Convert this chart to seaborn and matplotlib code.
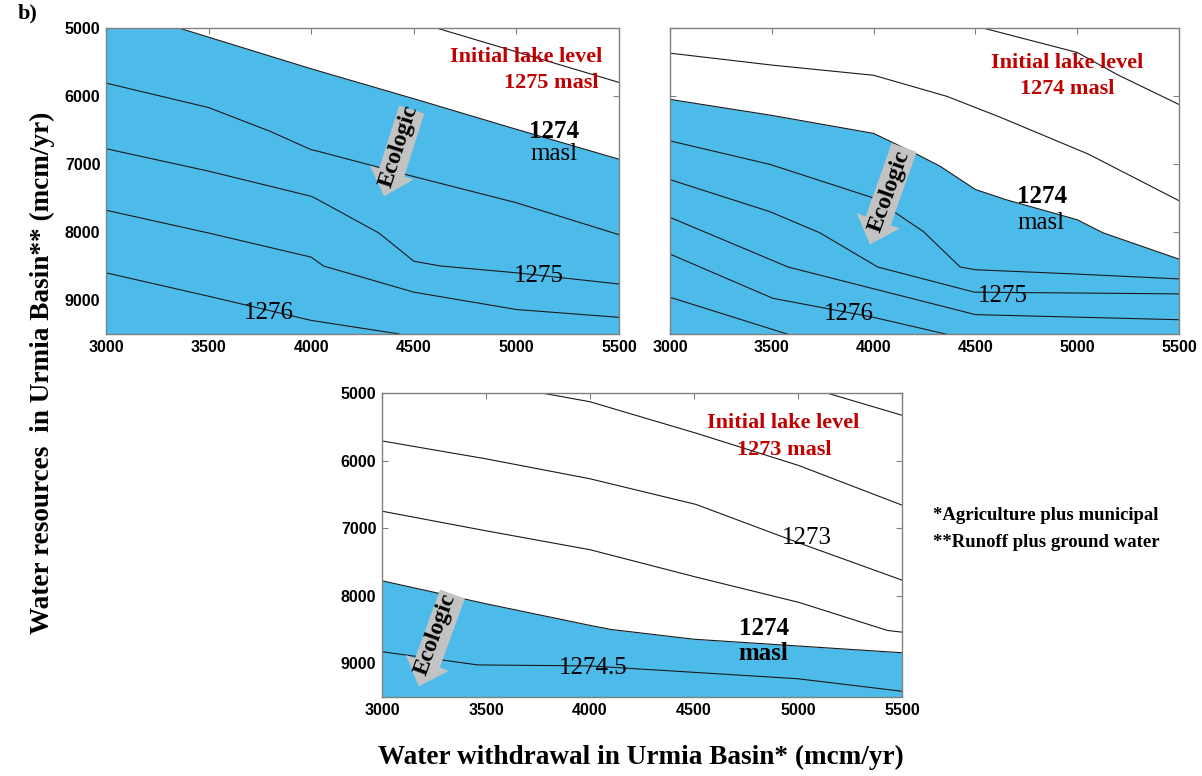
import matplotlib
matplotlib.use("Agg")
import matplotlib.pyplot as plt
import pandas as pd
import seaborn as sns

# ---- axis ticks (mcm/yr) ----
withdrawal_ticks = [3000, 3500, 4000, 4500, 5000, 5500]
resource_ticks = [5000, 6000, 7000, 8000, 9000]
resource_range = [5000, 9500]

# ---- panel 1: initial lake level 1275 masl ----
p1_c1_x = [4610, 5500]
p1_c1_y = [5000, 5800]
p1_c2_x = [3355, 4000, 4500, 5000, 5500]          # 1274 masl contour
p1_c2_y = [5000, 5600, 6040, 6490, 6930]
p1_c3_x = [3000, 3500, 3800, 4000, 4030, 4500, 5000, 5500]
p1_c3_y = [5810, 6170, 6520, 6790, 6810, 7185, 7570, 8040]
p1_c4_x = [3000, 3500, 4000, 4030, 4330, 4500, 4630, 5000, 5500]
p1_c4_y = [6775, 7105, 7475, 7520, 8015, 8430, 8500, 8600, 8765]
p1_c5_x = [3000, 3500, 4000, 4060, 4500, 5000, 5500]
p1_c5_y = [7680, 8015, 8370, 8500, 8885, 9140, 9255]
p1_c6_x = [3000, 3500, 4000, 4430]
p1_c6_y = [8600, 8945, 9300, 9500]

# ---- panel 2: initial lake level 1274 masl ----
p2_c1_x = [4537, 5000, 5200, 5500]
p2_c1_y = [5000, 5360, 5690, 6125]
p2_c2_x = [3000, 3500, 4000, 4360, 4620, 5055, 5500]
p2_c2_y = [5370, 5545, 5695, 6005, 6310, 6855, 7540]
p2_c3_x = [3000, 3500, 4000, 4195, 4325, 4500, 4650, 5000, 5125, 5500]   # 1274 masl contour
p2_c3_y = [6050, 6285, 6550, 6830, 7030, 7375, 7525, 7820, 8010, 8400]
p2_c4_x = [3000, 3490, 4000, 4245, 4425, 4500, 4970, 5500]
p2_c4_y = [6660, 7005, 7500, 7995, 8515, 8555, 8615, 8690]
p2_c5_x = [3000, 3490, 3735, 4020, 4495, 5500]
p2_c5_y = [7230, 7700, 8010, 8515, 8885, 8910]
p2_c6_x = [3000, 3580, 4000, 4500, 5500]
p2_c6_y = [7785, 8515, 8835, 9215, 9290]
p2_c7_x = [3000, 3505, 4000, 4360]
p2_c7_y = [8325, 8975, 9255, 9505]
p2_c8_x = [3000, 3580]
p2_c8_y = [8960, 9505]

# ---- panel 3: initial lake level 1273 masl ----
p3_c1_x = [3767, 4000, 4510, 5005, 5500]
p3_c1_y = [5000, 5130, 5595, 6075, 6660]
p3_c2_x = [5138, 5500]
p3_c2_y = [5000, 5330]
p3_c3_x = [3000, 3500, 4000, 4510, 5005, 5500]
p3_c3_y = [5710, 5975, 6270, 6650, 7220, 7770]
p3_c4_x = [3000, 3500, 4000, 4510, 5005, 5430, 5500]
p3_c4_y = [6750, 7040, 7320, 7725, 8100, 8515, 8540]
p3_c5_x = [3000, 3500, 4000, 4100, 4500, 5000, 5500]   # 1274 masl contour
p3_c5_y = [7780, 8120, 8440, 8500, 8645, 8745, 8845]
p3_c6_x = [3000, 3460, 4000, 4500, 5000, 5500]
p3_c6_y = [8830, 9025, 9040, 9135, 9230, 9415]

BLUE = "#4dbbea"
RED = "#c00000"
SERIF = "Liberation Serif"
SANS = "Liberation Sans"

sns.set_style("white")
plt.rcParams["font.family"] = [SERIF, "DejaVu Sans"]
plt.rcParams["text.color"] = "black"
plt.rcParams["xtick.labelcolor"] = "black"
plt.rcParams["ytick.labelcolor"] = "black"

fig = plt.figure(figsize=(12.02, 7.76), dpi=100)
ax1 = fig.add_axes([0.0882, 0.5696, 0.4268, 0.3943])
ax2 = fig.add_axes([0.5574, 0.5696, 0.4235, 0.3943])
ax3 = fig.add_axes([0.3178, 0.1018, 0.4326, 0.3918])


def draw_lines(ax, lines):
    for xs, ys in lines:
        df = pd.DataFrame({"w": xs, "r": ys})
        sns.lineplot(data=df, x="w", y="r", sort=False, estimator=None,
                     color="#1a1a1a", lw=0.8, ax=ax, zorder=3)


def fill_below(ax, xs, ys):
    ax.fill_between(xs, ys, resource_range[1], color=BLUE, lw=0, zorder=1)


def style_axes(ax, ylabels=True):
    ax.set_xlim(withdrawal_ticks[0], withdrawal_ticks[-1])
    ax.set_ylim(resource_range[1], resource_range[0])
    ax.set_xticks(withdrawal_ticks)
    ax.set_yticks(resource_ticks)
    ax.set_xlabel("")
    ax.set_ylabel("")
    ax.tick_params(direction="in", length=4, width=0.8, color="#808080",
                   labelcolor="black",
                   top=True, right=True, bottom=True, left=True,
                   labelsize=11.5, pad=4)
    if not ylabels:
        ax.set_yticklabels([])
    for lab in ax.get_xticklabels() + ax.get_yticklabels():
        lab.set_fontfamily(SANS)
        lab.set_fontweight("bold")
    for sp in ax.spines.values():
        sp.set_color("#808080")
        sp.set_linewidth(1.0)
        sp.set_zorder(5)


def ecologic(ax, tail, tip, text_xy, rot):
    ax.annotate("", xy=tip, xytext=tail, xycoords="data",
                arrowprops=dict(arrowstyle="simple,head_length=18,head_width=33,tail_width=19",
                                mutation_scale=1, fc="#c3c3c3", ec="none",
                                shrinkA=0, shrinkB=0), zorder=4)
    ax.text(text_xy[0], text_xy[1], "Ecologic", rotation=rot, ha="center",
            va="center", fontsize=17, fontweight="bold", rotation_mode="anchor",
            color="black", zorder=6)


# panel 1
fill_below(ax1, [3000] + p1_c2_x, [5000] + p1_c2_y)
draw_lines(ax1, [(p1_c1_x, p1_c1_y), (p1_c2_x, p1_c2_y), (p1_c3_x, p1_c3_y),
                 (p1_c4_x, p1_c4_y), (p1_c5_x, p1_c5_y), (p1_c6_x, p1_c6_y)])
style_axes(ax1)
ax1.text(5420, 5420, "Initial lake level", color=RED, ha="right", va="center",
         fontsize=16, fontweight="bold")
ax1.text(5400, 5810, "1275 masl", color=RED, ha="right", va="center",
         fontsize=16, fontweight="bold")
ax1.text(5185, 6520, "1274", ha="center", va="center", fontsize=18, fontweight="bold")
ax1.text(5185, 6860, "masl", ha="center", va="center", fontsize=18)
ax1.text(5110, 8640, "1275", ha="center", va="center", fontsize=18)
ax1.text(3795, 9190, "1276", ha="center", va="center", fontsize=18)
ecologic(ax1, (4490, 6200), (4355, 7475), (4425, 6740), 72)

# panel 2
fill_below(ax2, p2_c3_x, p2_c3_y)
draw_lines(ax2, [(p2_c1_x, p2_c1_y), (p2_c2_x, p2_c2_y), (p2_c3_x, p2_c3_y),
                 (p2_c4_x, p2_c4_y), (p2_c5_x, p2_c5_y), (p2_c6_x, p2_c6_y),
                 (p2_c7_x, p2_c7_y), (p2_c8_x, p2_c8_y)])
style_axes(ax2, ylabels=False)
ax2.text(4950, 5516, "Initial lake level", color=RED, ha="center", va="center",
         fontsize=16, fontweight="bold")
ax2.text(4950, 5900, "1274 masl", color=RED, ha="center", va="center",
         fontsize=16, fontweight="bold")
ax2.text(4825, 7475, "1274", ha="center", va="center", fontsize=18, fontweight="bold")
ax2.text(4820, 7870, "masl", ha="center", va="center", fontsize=18)
ax2.text(4635, 8935, "1275", ha="center", va="center", fontsize=18)
ax2.text(3877, 9207, "1276", ha="center", va="center", fontsize=18)
ecologic(ax2, (4150, 6757), (3982, 8183), (4075, 7400), 70)

# panel 3
fill_below(ax3, p3_c5_x, p3_c5_y)
draw_lines(ax3, [(p3_c1_x, p3_c1_y), (p3_c2_x, p3_c2_y), (p3_c3_x, p3_c3_y),
                 (p3_c4_x, p3_c4_y), (p3_c5_x, p3_c5_y), (p3_c6_x, p3_c6_y)])
style_axes(ax3)
ax3.text(4930, 5444, "Initial lake level", color=RED, ha="center", va="center",
         fontsize=16, fontweight="bold")
ax3.text(4935, 5843, "1273 masl", color=RED, ha="center", va="center",
         fontsize=16, fontweight="bold")
ax3.text(5043, 7147, "1273", ha="center", va="center", fontsize=18)
ax3.text(4835, 8489, "1274", ha="center", va="center", fontsize=18, fontweight="bold")
ax3.text(4835, 8855, "masl", ha="center", va="center", fontsize=18, fontweight="bold")
ax3.text(4015, 9075, "1274.5", ha="center", va="center", fontsize=18)
ecologic(ax3, (3339, 7977), (3177, 9343), (3258, 8570), 70)

# figure-level labels
fig.text(0.015, 0.982, "b)", fontsize=16, fontweight="bold", ha="left", va="center")
fig.text(0.035, 0.52, "Water resources  in Urmia Basin** (mcm/yr)", rotation=90,
         ha="center", va="center", fontsize=19.6, fontweight="bold")
fig.text(0.533, 0.024, "Water withdrawal in Urmia Basin* (mcm/yr)",
         ha="center", va="center", fontsize=19.6, fontweight="bold")
fig.text(0.776, 0.336, "*Agriculture plus municipal", ha="left", va="center",
         fontsize=13.5, fontweight="bold")
fig.text(0.776, 0.301, "**Runoff plus ground water", ha="left", va="center",
         fontsize=13.5, fontweight="bold")

fig.savefig("out.png", dpi=100)
